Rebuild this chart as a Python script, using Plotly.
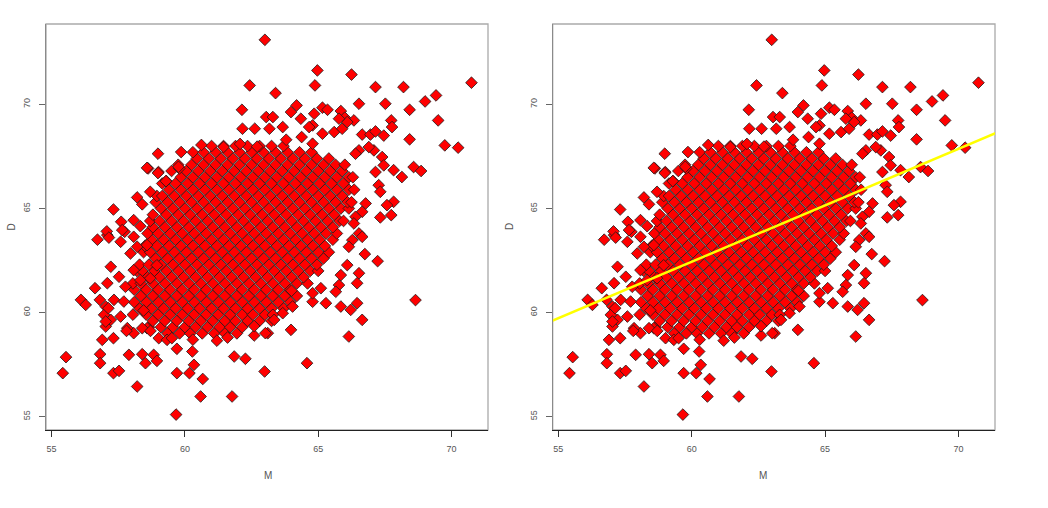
import plotly.graph_objects as go

# ---------------- data ----------------
# dense core of the cloud: one daughter height per row, mother heights along the row
core_d = [59.0, 59.3, 59.6, 59.9, 60.2, 60.5, 60.8, 61.1, 61.4, 61.7,
          62.0, 62.3, 62.6, 62.9, 63.2, 63.5, 63.8, 64.1, 64.4, 64.7,
          65.0, 65.3, 65.6, 65.9, 66.2, 66.5, 66.8, 67.1, 67.4, 67.7, 68.0]
core_m = [
    [59.35, 59.8, 60.2, 60.65, 61.1, 61.5, 61.95],
    [58.65, 59.1, 59.55, 60.0, 60.4, 60.85, 61.3, 61.7, 62.15],
    [58.8, 59.25, 59.7, 60.15, 60.6, 61.05, 61.5, 61.9, 62.35, 62.8, 63.25],
    [58.05, 58.55, 59.0, 59.45, 59.9, 60.35, 60.8, 61.25, 61.7, 62.15, 62.55, 63.0],
    [58.3, 58.75, 59.2, 59.65, 60.1, 60.55, 61.0, 61.45, 61.9, 62.35, 62.8, 63.25, 63.7],
    [58.1, 58.55, 59.0, 59.45, 59.9, 60.35, 60.8, 61.25, 61.7, 62.15, 62.6, 63.05, 63.5, 63.95],
    [58.35, 58.8, 59.25, 59.7, 60.15, 60.6, 61.05, 61.5, 61.95, 62.4, 62.85, 63.3, 63.75, 64.2],
    [58.1, 58.55, 59.0, 59.45, 59.9, 60.35, 60.8, 61.25, 61.7, 62.15, 62.6, 63.05, 63.5, 63.95],
    [58.05, 58.35, 58.8, 59.25, 59.7, 60.15, 60.6, 61.05, 61.5, 61.95, 62.4, 62.85, 63.3, 63.75, 64.2, 64.6],
    [58.6, 59.05, 59.5, 59.95, 60.4, 60.85, 61.3, 61.75, 62.2, 62.65, 63.1, 63.55, 64.0, 64.45],
    [58.2, 58.4, 58.85, 59.3, 59.75, 60.2, 60.65, 61.1, 61.55, 62.0, 62.45, 62.9, 63.35, 63.8, 64.25, 64.7, 65.0],
    [58.3, 58.65, 59.1, 59.55, 60.0, 60.45, 60.9, 61.35, 61.8, 62.25, 62.7, 63.15, 63.6, 64.05, 64.5, 64.95],
    [58.9, 59.35, 59.8, 60.25, 60.7, 61.15, 61.6, 62.05, 62.5, 62.95, 63.4, 63.85, 64.3, 64.75, 65.2],
    [58.45, 58.7, 59.15, 59.6, 60.05, 60.5, 60.95, 61.4, 61.85, 62.3, 62.75, 63.2, 63.65, 64.1, 64.55, 65.0, 65.4],
    [58.5, 58.95, 59.4, 59.85, 60.3, 60.75, 61.2, 61.65, 62.1, 62.55, 63.0, 63.45, 63.9, 64.35, 64.8, 65.25],
    [58.75, 59.2, 59.65, 60.1, 60.55, 61.0, 61.45, 61.9, 62.35, 62.8, 63.25, 63.7, 64.15, 64.6, 65.05, 65.55],
    [58.6, 59.0, 59.45, 59.9, 60.35, 60.8, 61.25, 61.7, 62.15, 62.6, 63.05, 63.5, 63.95, 64.4, 64.85, 65.3, 65.7],
    [58.8, 59.25, 59.7, 60.15, 60.6, 61.05, 61.5, 61.95, 62.4, 62.85, 63.3, 63.75, 64.2, 64.65, 65.1, 65.55],
    [58.7, 59.05, 59.5, 59.95, 60.4, 60.85, 61.3, 61.75, 62.2, 62.65, 63.1, 63.55, 64.0, 64.45, 64.9, 65.35, 65.8, 65.95],
    [58.8, 59.3, 59.75, 60.2, 60.65, 61.1, 61.55, 62.0, 62.45, 62.9, 63.35, 63.8, 64.25, 64.7, 65.15, 65.6],
    [59.1, 59.55, 60.0, 60.45, 60.9, 61.35, 61.8, 62.25, 62.7, 63.15, 63.6, 64.05, 64.5, 64.95, 65.4, 65.85, 66.15],
    [58.9, 59.35, 59.8, 60.25, 60.7, 61.15, 61.6, 62.05, 62.5, 62.95, 63.4, 63.85, 64.3, 64.75, 65.2, 65.65, 66.1, 66.25],
    [58.95, 59.15, 59.6, 60.05, 60.5, 60.95, 61.4, 61.85, 62.3, 62.75, 63.2, 63.65, 64.1, 64.55, 65.0, 65.45, 65.9],
    [59.4, 59.85, 60.3, 60.75, 61.2, 61.65, 62.1, 62.55, 63.0, 63.45, 63.9, 64.35, 64.8, 65.25, 65.7, 66.15, 66.35],
    [59.15, 59.65, 60.1, 60.55, 61.0, 61.45, 61.9, 62.35, 62.8, 63.25, 63.7, 64.15, 64.6, 65.05, 65.5, 65.95],
    [59.85, 60.3, 60.75, 61.2, 61.65, 62.1, 62.55, 63.0, 63.45, 63.9, 64.35, 64.8, 65.25, 65.7, 66.15, 66.3],
    [59.5, 60.05, 60.5, 60.95, 61.4, 61.85, 62.3, 62.75, 63.2, 63.65, 64.1, 64.55, 65.0, 65.45, 65.9],
    [59.75, 60.25, 60.7, 61.15, 61.6, 62.05, 62.5, 62.95, 63.4, 63.85, 64.3, 64.75, 65.2, 65.65, 66.0],
    [60.45, 60.9, 61.35, 61.8, 62.25, 62.7, 63.15, 63.6, 64.05, 64.5, 64.95, 65.4],
    [60.3, 60.7, 61.15, 61.6, 62.05, 62.5, 62.95, 63.4, 63.85, 64.3, 64.75],
    [61.0, 61.45, 61.9, 62.35, 62.8, 63.25, 63.7],
]

# scattered points around the core (mother, daughter)
edge_m = [
    63.0, 62.43, 62.14, 62.16, 62.62, 64.97, 64.88, 66.25, 67.15, 68.2,
    70.75, 63.4, 69.42, 69.01, 67.52, 68.43, 66.53, 69.5, 67.74, 68.43,
    69.75, 70.25, 64.19, 63.98, 65.16, 65.35, 65.85, 66.0, 66.34, 64.35,
    64.85, 63.67, 63.05, 63.3, 63.17, 66.65, 66.96, 67.15, 67.46, 67.77,
    64.38, 64.79, 64.66, 65.16, 65.6, 65.9, 66.09, 65.78, 64.79, 63.8,
    67.4, 67.46, 67.83, 68.14, 68.58, 68.86, 67.09, 66.9, 66.53, 66.4,
    67.15, 67.27, 67.33, 67.83, 67.58, 67.74, 67.33, 66.78, 66.65, 66.4,
    66.34, 66.53, 66.65, 66.28, 66.15, 66.75, 67.23, 66.53, 66.46, 66.09,
    65.85, 65.78, 65.66, 65.29, 64.79, 65.85, 66.22, 66.46, 66.65, 68.65,
    63.98, 63.11, 66.15, 64.58, 62.99, 64.04, 63.67, 63.3, 64.79, 65.1,
    58.99, 59.86, 58.62, 59.01, 59.3, 59.79, 58.21, 57.32, 57.61, 58.08,
    57.74, 58.33, 57.09, 57.59, 58.08, 58.21, 57.96, 58.58, 57.22, 57.53,
    57.09, 58.08, 57.77, 58.33, 57.34, 57.03, 57.71, 57.59, 57.22, 57.03,
    57.84, 58.08, 58.58, 56.1, 56.28, 56.63, 56.81, 56.97, 57.03, 57.13,
    56.72, 57.07, 57.15, 57.65, 58.58, 58.99, 59.29, 59.76, 58.4, 58.7,
    55.54, 55.42, 56.9, 57.32, 56.82, 56.82, 57.32, 57.53, 57.9, 58.21,
    58.4, 58.52, 58.83, 58.95, 59.7, 59.7, 60.28, 60.34, 60.17, 60.67,
    60.59, 61.77, 59.67, 61.85, 62.27, 63.02, 57.81, 58.4, 58.71, 59.02,
    59.33, 59.51, 60.3, 61.2, 62.6, 61.6, 60.62, 61.45, 62.07, 62.71,
    58.95, 62.6, 63.35, 64.0, 58.45, 58.7,
]
edge_d = [
    73.1, 70.91, 69.74, 68.83, 68.83, 71.63, 70.91, 71.43, 70.83, 70.83,
    71.04, 70.54, 70.43, 70.14, 70.03, 69.74, 70.03, 69.23, 69.23, 68.32,
    68.03, 67.92, 69.95, 69.63, 69.84, 69.74, 69.68, 69.36, 69.23, 69.31,
    69.55, 68.91, 69.39, 69.39, 68.83, 68.55, 68.55, 68.7, 68.5, 68.91,
    68.43, 68.99, 68.91, 68.59, 68.67, 68.83, 69.15, 69.31, 68.11, 68.3,
    67.47, 67.07, 66.84, 66.51, 66.99, 66.8, 67.79, 67.95, 67.79, 67.63,
    66.75, 66.12, 65.8, 65.32, 65.16, 64.68, 64.57, 65.24, 64.84, 64.6,
    64.28, 63.8, 63.64, 63.48, 63.16, 62.81, 62.47, 61.89, 61.41, 62.28,
    61.8, 61.32, 61.0, 60.45, 60.52, 60.29, 60.13, 60.45, 59.65, 60.6,
    59.17, 59.01, 58.85, 57.57, 57.17, 60.29, 59.97, 59.89, 60.93, 61.17,
    67.63, 67.71, 66.92, 66.75, 66.32, 66.92, 65.53, 64.95, 64.36, 64.44,
    63.88, 64.15, 63.72, 63.4, 63.64, 63.16, 62.84, 63.24, 62.2, 61.72,
    61.41, 62.04, 61.24, 61.56, 60.61, 60.29, 60.53, 59.81, 59.65, 59.33,
    59.25, 59.01, 59.25, 60.61, 60.37, 61.17, 60.61, 59.89, 59.57, 60.21,
    63.5, 63.9, 63.6, 63.96, 66.95, 66.7, 66.31, 67.0, 65.2, 65.8,
    57.86, 57.09, 58.69, 58.77, 58.0, 57.57, 57.09, 57.2, 57.97, 56.45,
    58.0, 57.57, 57.97, 57.68, 58.26, 57.09, 58.13, 57.49, 57.09, 56.81,
    55.97, 55.97, 55.1, 57.89, 57.78, 59.01, 59.12, 59.25, 59.12, 58.77,
    58.69, 58.77, 58.7, 58.65, 58.9, 58.8, 68.05, 67.95, 68.1, 67.97,
    62.27, 59.35, 59.65, 61.05, 60.1, 61.65,
]

# least-squares line: D = a + b * M
fit_intercept = 29.92
fit_slope = 0.542

tick_vals = [55, 60, 65, 70]
tick_text = ["55", "60", "65", "70"]
x_label = "M"
y_label = "D"

# ---------------- build series ----------------
assert len(edge_m) == len(edge_d), (len(edge_m), len(edge_d))
mother = []
daughter = []
for d, row in zip(core_d, core_m):
    for m in row:
        mother.append(m)
        daughter.append(d)
mother += edge_m
daughter += edge_d

x_range = [54.79, 71.37]
y_range = [54.36, 73.86]

marker = dict(symbol="diamond", size=9, color="#ff0000",
              line=dict(color="#1a1a1a", width=0.8))

fig = go.Figure()
fig.add_trace(go.Scatter(x=mother, y=daughter, mode="markers", marker=marker,
                         xaxis="x", yaxis="y", hoverinfo="skip"))
fig.add_trace(go.Scatter(x=mother, y=daughter, mode="markers", marker=marker,
                         xaxis="x2", yaxis="y2", hoverinfo="skip"))
line_x = [x_range[0] - 1, x_range[1] + 1]
line_y = [fit_intercept + fit_slope * v for v in line_x]
fig.add_trace(go.Scatter(x=line_x, y=line_y, mode="lines",
                         line=dict(color="#ffff00", width=2.5),
                         xaxis="x2", yaxis="y2", hoverinfo="skip"))

W, H = 1048, 508
font = dict(family="Liberation Sans, Arial, sans-serif", size=9, color="#555555")

def xax(domain, anchor):
    return dict(domain=domain, anchor=anchor, range=x_range, tickmode="array",
                tickvals=tick_vals, ticktext=tick_text, ticks="outside", ticklen=6,
                tickcolor="#333333", showline=True, linecolor="#222222", linewidth=1.3,
                showgrid=False, zeroline=False, tickfont=font, ticklabelstandoff=4,
                fixedrange=True)

def yax(domain, anchor):
    return dict(domain=domain, anchor=anchor, range=y_range, tickmode="array",
                tickvals=tick_vals, ticktext=tick_text, ticks="outside", ticklen=6,
                tickcolor="#666666", showline=True, linecolor="#8a8a8a", linewidth=1.3,
                showgrid=False, zeroline=False, tickfont=font, tickangle=-90,
                ticklabelstandoff=5, fixedrange=True)

ydom = [1 - 430 / H, 1 - 24 / H]
label_font = dict(family=font["family"], size=10, color="#555555")
fig.update_layout(
    width=W, height=H, margin=dict(l=0, r=0, t=0, b=0),
    paper_bgcolor="white", plot_bgcolor="white", showlegend=False,
    font=font,
    xaxis=xax([46 / W, 488 / W], "y"),
    yaxis=yax(ydom, "x"),
    xaxis2=xax([552.7 / W, 995 / W], "y2"),
    yaxis2=yax(ydom, "x2"),
    shapes=[
        dict(type="rect", xref="x domain", yref="y domain", x0=0, x1=1, y0=0, y1=1,
             line=dict(color="#aaaaaa", width=1.3), layer="below"),
        dict(type="rect", xref="x2 domain", yref="y2 domain", x0=0, x1=1, y0=0, y1=1,
             line=dict(color="#aaaaaa", width=1.3), layer="below"),
    ],
    annotations=[
        dict(text=x_label, x=262 / W, y=1 - 483 / H, xref="paper", yref="paper",
             showarrow=False, font=label_font),
        dict(text=x_label, x=769 / W, y=1 - 483 / H, xref="paper", yref="paper",
             showarrow=False, font=label_font),
        dict(text=y_label, x=3 / W, y=1 - 227 / H, xref="paper", yref="paper",
             showarrow=False, textangle=-90, font=label_font),
        dict(text=y_label, x=509 / W, y=1 - 227 / H, xref="paper", yref="paper",
             showarrow=False, textangle=-90, font=label_font),
    ],
)

fig.write_html("out.html", config={"displayModeBar": False},
               post_script="document.body.style.margin='0';")
